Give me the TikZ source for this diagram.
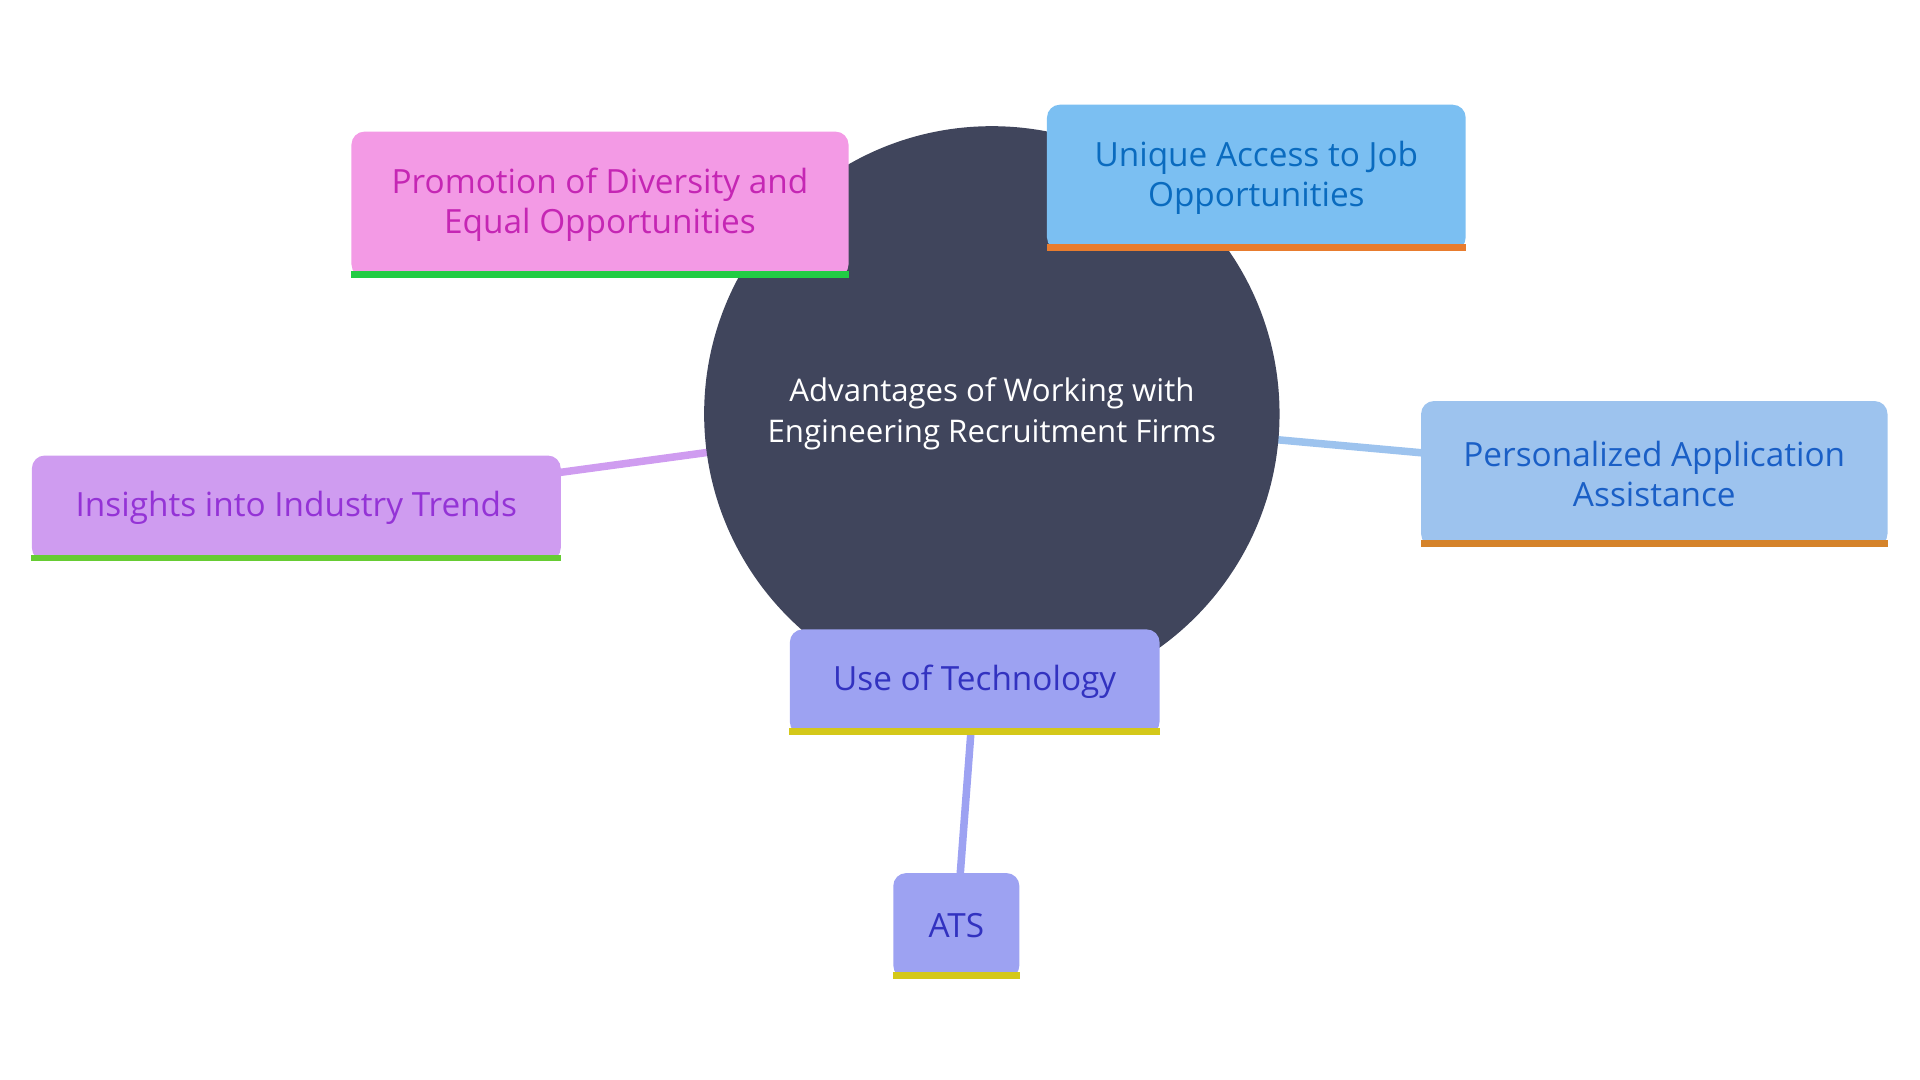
\documentclass[tikz,border=0pt]{standalone}
\usepackage{fontspec}
\setmainfont{Open Sans}
\usetikzlibrary{positioning}

\definecolor{hub}{HTML}{40455C}
\definecolor{pinkfill}{HTML}{F39AE5}
\definecolor{pinktext}{HTML}{C526B4}
\definecolor{bluefill}{HTML}{7BBFF2}
\definecolor{bluetext}{HTML}{0A6BBF}
\definecolor{persfill}{HTML}{9DC3EE}
\definecolor{perstext}{HTML}{1A5FC6}
\definecolor{insfill}{HTML}{CF9CF0}
\definecolor{instext}{HTML}{9433D6}
\definecolor{techfill}{HTML}{9DA2F2}
\definecolor{techtext}{HTML}{3232C0}
\definecolor{greenbar}{HTML}{22CC44}
\definecolor{limebar}{HTML}{66CC33}
\definecolor{orangebar}{HTML}{E87C2E}
\definecolor{amberbar}{HTML}{D5832A}
\definecolor{yellowbar}{HTML}{D4C81A}

\begin{document}
\begin{tikzpicture}[
  x=0.02cm, y=-0.02cm,
  topic/.style={rectangle, rounded corners=6pt, align=center, inner sep=0pt,
    font=\fontsize{15.5}{18.7}\selectfont},
  link/.style={line width=3.5pt}
]
  \useasboundingbox (0,0) rectangle (1568,882);

  % links
  \draw[link, insfill] (242,415) -- (810,338);
  \draw[link, persfill] (1351,387) -- (810,338);
  \draw[link, techfill] (796,557) -- (781,756);

  % hub
  \node[circle, fill=hub, minimum size=9.4cm, text=white, align=center,
    font=\fontsize{14.5}{18.7}\selectfont] (hub) at (810,338)
    {Advantages of Working with\\Engineering Recruitment Firms};

  % topics
  \node[topic, fill=pinkfill, text=pinktext, minimum width=8.12cm, minimum height=2.38cm]
    (diversity) at (490,167) {Promotion of Diversity and\\Equal Opportunities};
  \node[topic, fill=bluefill, text=bluetext, minimum width=6.84cm, minimum height=2.38cm]
    (access) at (1026,145) {Unique Access to Job\\Opportunities};
  \node[topic, fill=persfill, text=perstext, minimum width=7.62cm, minimum height=2.38cm]
    (assist) at (1351,387) {Personalized Application\\Assistance};
  \node[topic, fill=insfill, text=instext, minimum width=8.64cm, minimum height=1.72cm]
    (trends) at (242,415) {Insights into Industry Trends};
  \node[topic, fill=techfill, text=techtext, minimum width=6.04cm, minimum height=1.72cm]
    (tech) at (796,557) {Use of Technology};
  \node[topic, fill=techfill, text=techtext, minimum width=2.06cm, minimum height=1.72cm]
    (ats) at (781,756) {ATS};

  % bottom bars
  \fill[greenbar] (diversity.south west) rectangle ([yshift=0.11cm]diversity.south east);
  \fill[orangebar] (access.south west) rectangle ([yshift=0.11cm]access.south east);
  \fill[amberbar] (assist.south west) rectangle ([yshift=0.11cm]assist.south east);
  \fill[limebar] (trends.south west) rectangle ([yshift=0.11cm]trends.south east);
  \fill[yellowbar] (tech.south west) rectangle ([yshift=0.11cm]tech.south east);
  \fill[yellowbar] (ats.south west) rectangle ([yshift=0.11cm]ats.south east);
\end{tikzpicture}
\end{document}
